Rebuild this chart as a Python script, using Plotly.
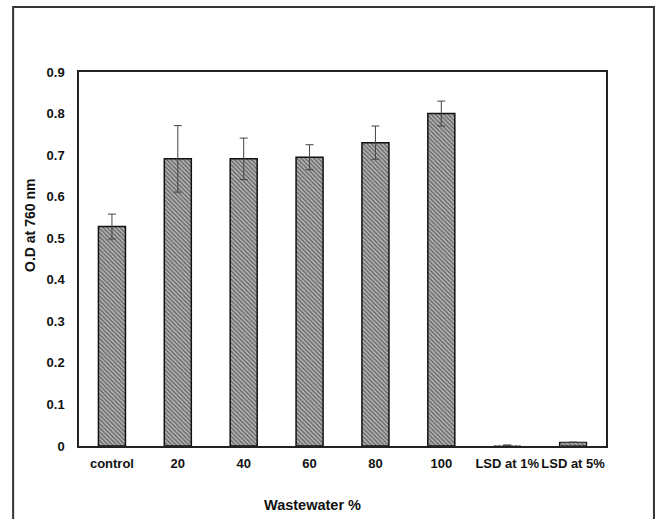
import plotly.graph_objects as go

# Optical density of cultures grown at different wastewater concentrations
categories = ["control", "20", "40", "60", "80", "100", "LSD at 1%", "LSD at 5%"]
od_values = [0.528, 0.691, 0.691, 0.695, 0.730, 0.800, 0.002, 0.009]
od_errors = [0.030, 0.080, 0.050, 0.030, 0.040, 0.030, 0, 0]
y_ticks = [0, 0.1, 0.2, 0.3, 0.4, 0.5, 0.6, 0.7, 0.8, 0.9]

FONT = "Liberation Sans, Arial, sans-serif"

# the LSD-at-1% bar is too thin for an outline; only its hatch shows
outline_widths = [1.5, 1.5, 1.5, 1.5, 1.5, 1.5, 0, 1.2]

fig = go.Figure(
    go.Bar(
        x=categories,
        y=od_values,
        error_y=dict(type="data", array=od_errors, visible=True,
                     color="#444", thickness=1, width=4),
        marker=dict(
            color="#808080",
            line=dict(color="#111", width=outline_widths),
            pattern=dict(shape="\\", fgcolor="#1a1a1a", bgcolor="#b8b8b8",
                         size=3, solidity=0.5),
        ),
        showlegend=False,
    )
)

fig.update_layout(
    width=658, height=519,
    margin=dict(l=79, r=52, t=72, b=73),
    paper_bgcolor="white", plot_bgcolor="white",
    bargap=0.59,
    font=dict(family=FONT, size=13, color="#111"),
    xaxis=dict(
        showline=True, linecolor="#222", linewidth=1.5, mirror=True,
        tickfont=dict(family=FONT, size=13, color="#111", weight="bold"),
        tickangle=0, ticks="", ticklabelstandoff=5,
        showgrid=False,
    ),
    yaxis=dict(
        range=[0, 0.9], tickvals=y_ticks,
        ticktext=[f"{v:g}" for v in y_ticks],
        showline=True, linecolor="#222", linewidth=1.5, mirror=True,
        tickfont=dict(family=FONT, size=13, color="#111", weight="bold"),
        ticks="", ticklabelstandoff=10,
        showgrid=False, zeroline=False,
    ),
    annotations=[
        dict(text="O.D at 760 nm", xref="paper", yref="paper",
             x=-0.093, y=0.591, xanchor="center", yanchor="middle",
             textangle=-90, showarrow=False,
             font=dict(family=FONT, size=14, color="#111", weight="bold")),
        dict(text="Wastewater %", xref="paper", yref="paper",
             x=0.444, y=-0.158, xanchor="center", yanchor="middle",
             showarrow=False,
             font=dict(family=FONT, size=14.5, color="#111", weight="bold")),
    ],
    shapes=[
        # outer chart frame
        dict(type="rect", xref="paper", yref="paper",
             x0=-0.125, x1=1.091, y0=-0.25, y1=1.174,
             line=dict(color="#333", width=2), layer="below"),
    ],
)

fig.write_html("out.html")
